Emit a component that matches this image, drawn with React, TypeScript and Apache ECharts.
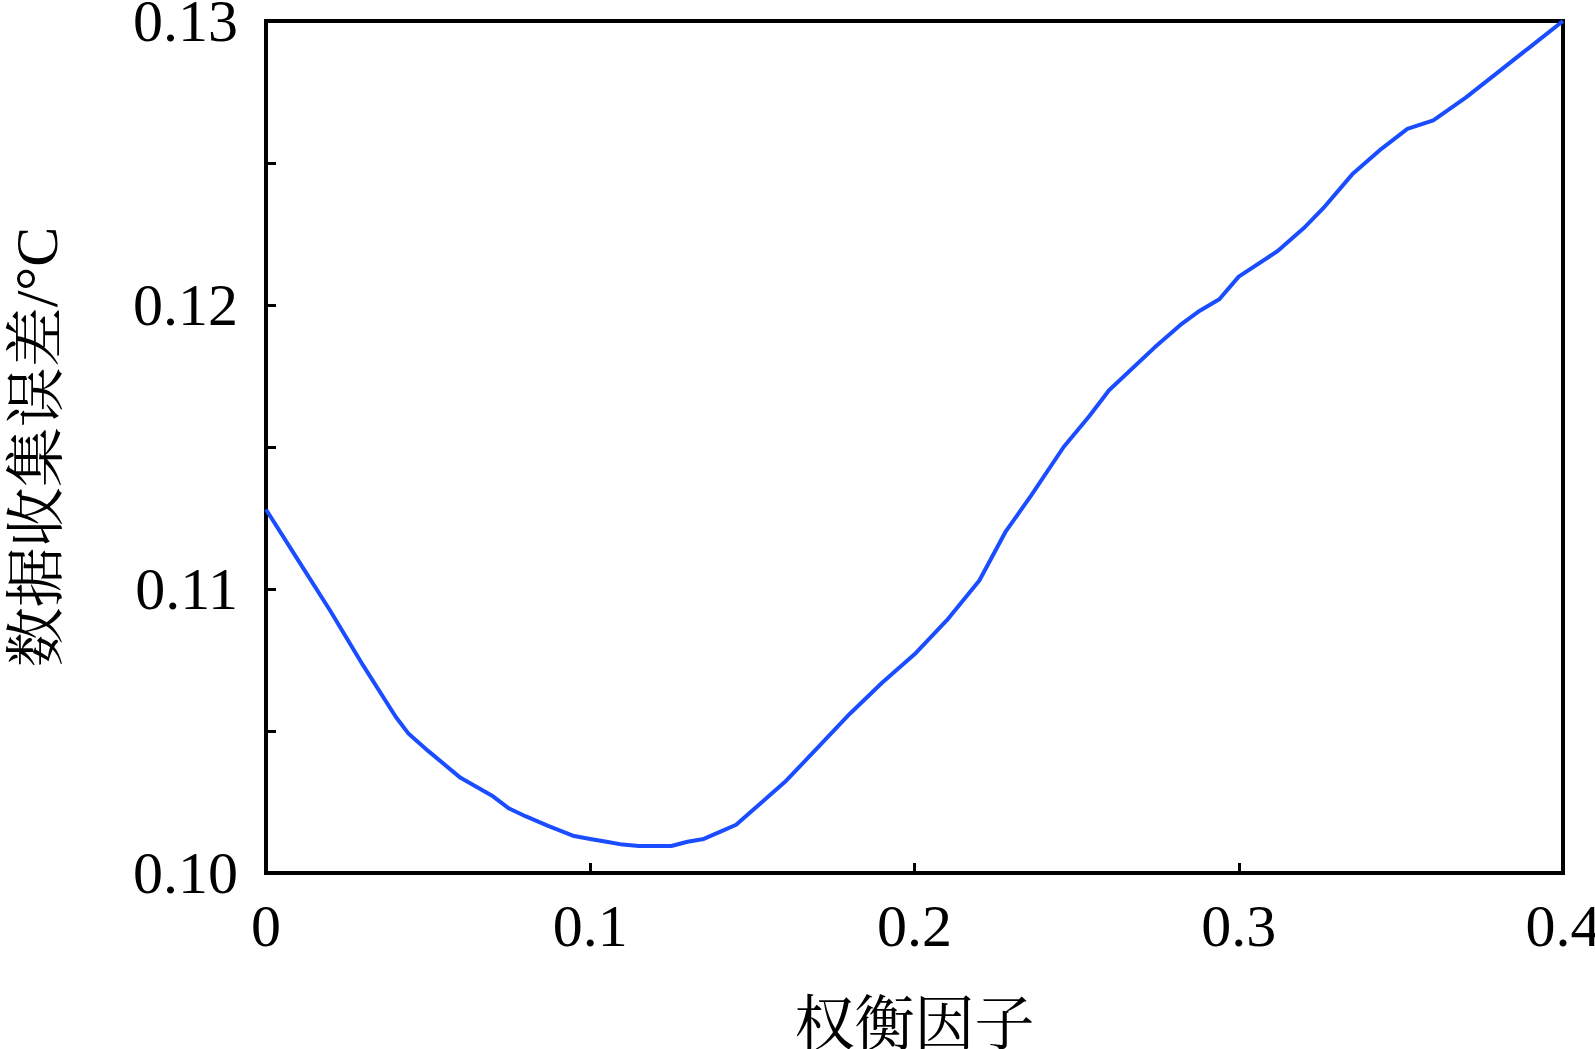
import React, { useEffect, useRef } from 'react';
import * as echarts from 'echarts';

// 权衡因子 (x)
const tradeoffFactor = [
  0.0, 0.01, 0.02, 0.03, 0.04, 0.044, 0.05, 0.06, 0.07, 0.075, 0.08, 0.087, 0.095,
  0.1, 0.105, 0.11, 0.115, 0.12, 0.125, 0.13, 0.135, 0.14, 0.145, 0.15, 0.155,
  0.16, 0.165, 0.17, 0.18, 0.19, 0.2, 0.21, 0.22, 0.228, 0.236, 0.246, 0.254,
  0.26, 0.274, 0.282, 0.288, 0.294, 0.3, 0.312, 0.32, 0.326, 0.335, 0.344, 0.352,
  0.36, 0.37, 0.38, 0.39, 0.4,
];

// 数据收集误差/°C (y)
const collectionError = [
  0.1128, 0.111, 0.1092, 0.1073, 0.1055, 0.1049, 0.1043, 0.10335, 0.1027, 0.10227,
  0.102, 0.10166, 0.1013, 0.1012, 0.1011, 0.101, 0.10095, 0.10095, 0.10095, 0.1011,
  0.1012, 0.10145, 0.1017, 0.1022, 0.1027, 0.1032, 0.1038, 0.1044, 0.1056, 0.1067,
  0.1077, 0.1089, 0.1103, 0.112, 0.1133, 0.115, 0.1161, 0.117, 0.1185, 0.1193,
  0.1198, 0.1202, 0.121, 0.1219, 0.1227, 0.1234, 0.1246, 0.1255, 0.1262, 0.1265,
  0.1273, 0.1282, 0.1291, 0.13,
];

const xAxisName = '权衡因子';
const yAxisName = '数据收集误差/°C';

const FONT = "'Liberation Serif', 'Times New Roman', 'Noto Serif CJK SC', 'Noto Sans CJK SC', serif";

export default function App() {
  const ref = useRef<HTMLDivElement>(null);

  useEffect(() => {
    if (!ref.current) return;
    const chart = echarts.init(ref.current, undefined, { renderer: 'svg' });
    const data = tradeoffFactor.map((x, i) => [x, collectionError[i]]);
    chart.setOption({
      animation: false,
      backgroundColor: '#ffffff',
      grid: {
        left: 266,
        right: 32,
        top: 21,
        bottom: 176,
        show: true,
        borderColor: '#000',
        borderWidth: 4,
        containLabel: false,
        outerBoundsMode: 'none',
      },
      xAxis: {
        type: 'value',
        min: 0,
        max: 0.4,
        interval: 0.1,
        name: xAxisName,
        nameLocation: 'middle',
        nameGap: 122,
        nameTextStyle: { fontFamily: FONT, fontSize: 60, color: '#000' },
        axisLine: { show: true, lineStyle: { color: '#000', width: 4 } },
        axisTick: { show: true, inside: true, length: 10, lineStyle: { color: '#000', width: 3 } },
        axisLabel: {
          margin: 23,
          fontFamily: FONT,
          fontSize: 60,
          color: '#000',
          formatter: (v: number) => (v === 0 ? '0' : v.toFixed(1)),
        },
        splitLine: { show: false },
      },
      yAxis: {
        type: 'value',
        min: 0.1,
        max: 0.13,
        interval: 0.005,
        name: yAxisName,
        nameLocation: 'middle',
        nameRotate: 90,
        nameGap: 199,
        nameTextStyle: { fontFamily: FONT, fontSize: 60, color: '#000' },
        axisLine: { show: true, lineStyle: { color: '#000', width: 4 } },
        axisTick: { show: true, inside: true, length: 10, lineStyle: { color: '#000', width: 3 } },
        axisLabel: {
          margin: 28,
          fontFamily: FONT,
          fontSize: 60,
          color: '#000',
          formatter: (v: number) => {
            const k = Math.round(v * 1000);
            return k % 10 === 0 ? v.toFixed(2) : '';
          },
        },
        splitLine: { show: false },
      },
      series: [
        {
          type: 'line',
          data,
          showSymbol: false,
          symbol: 'none',
          smooth: false,
          lineStyle: { color: '#1a4dff', width: 4 },
          z: 3,
        },
      ],
    });
    return () => chart.dispose();
  }, []);

  return (
    <div
      ref={ref}
      style={{ position: 'fixed', left: 0, top: 0, width: 1595, height: 1049, background: '#fff' }}
    />
  );
}
